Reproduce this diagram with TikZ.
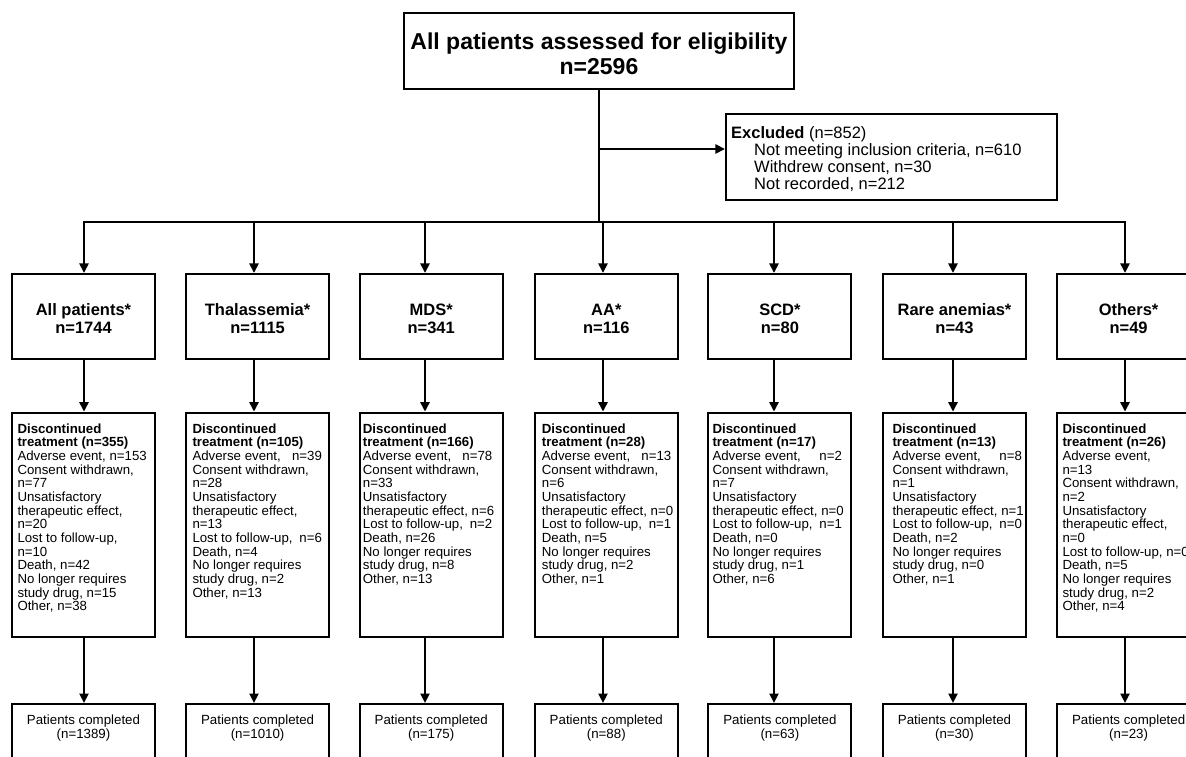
\documentclass[tikz,border=0pt]{standalone}
\usepackage{fontspec}
\setmainfont{Liberation Sans}
\usetikzlibrary{arrows.meta,calc}
\newcommand\lrline[2]{\hbox to 129.4pt{#1\hfill #2}}
\begin{document}
\begin{tikzpicture}[x=1pt,y=-1pt,
  box/.style={draw, line width=2.1pt, inner sep=0pt, minimum width=143pt},
  grp/.style={box, minimum height=85pt},
  gtxt/.style={inner sep=0pt, align=center, font=\fontsize{16.5}{18}\selectfont\bfseries},
  dbox/.style={box, minimum height=224pt},
  dtxt/.style={anchor=north west, inner sep=0pt, align=left, font=\fontsize{13.25}{13.65}\selectfont},
  pbox/.style={box, anchor=north, minimum height=90pt},
  ptxt/.style={anchor=north, inner sep=0pt, align=center, font=\fontsize{13.3}{14}\selectfont},
  conn/.style={line width=2.4pt, line cap=rect},
  arr/.style={line width=2.4pt, -{Triangle[length=9.5pt,width=9pt]}}]
\fill[white] (0,0) rectangle (1186,757);
\useasboundingbox (0,0) rectangle (1186,757);

% top box
\node[draw, line width=2.1pt, minimum width=390pt, minimum height=76pt, inner sep=0pt] (top) at (599,51) {};
\node[inner sep=0pt, align=center, font=\fontsize{23}{25}\selectfont\bfseries] (topt) at (599,53.5)
      {All patients assessed for eligibility\\n=2596};

% excluded box
\node[draw, line width=2.1pt, minimum width=331pt, minimum height=86pt, inner sep=0pt] (exc) at (891.5,157) {};
\node[anchor=north west, inner sep=0pt, align=left, font=\fontsize{16.5}{17}\selectfont] (exct) at (731,126.5)
  {\textbf{Excluded} (n=852)\\
   \hspace*{23pt}Not meeting inclusion criteria, n=610\\
   \hspace*{23pt}Withdrew consent, n=30\\
   \hspace*{23pt}Not recorded, n=212};

% bus coordinates
\coordinate (c1) at (84,222);
\coordinate (c2) at (254,222);
\coordinate (c3) at (425,222);
\coordinate (c4) at (603,222);
\coordinate (c5) at (774,222);
\coordinate (c6) at (953,222);
\coordinate (c7) at (1125,222);
\coordinate (ea) at (599,149);

% group boxes
\node[grp] (g1) at (83.5,316.5) {};
\node[grp] (g2) at (257.6,316.5) {};
\node[grp] (g3) at (431.2,316.5) {};
\node[grp] (g4) at (606.3,316.5) {};
\node[grp] (g5) at (779.9,316.5) {};
\node[grp] (g6) at (954.5,316.5) {};
\node[grp] (g7) at (1128.6,316.5) {};
\node[gtxt] (h1) at (83.5,318.5) {All patients*\\n=1744};
\node[gtxt] (h2) at (257.6,318.5) {Thalassemia*\\n=1115};
\node[gtxt] (h3) at (431.2,318.5) {MDS*\\n=341};
\node[gtxt] (h4) at (606.3,318.5) {AA*\\n=116};
\node[gtxt] (h5) at (779.9,318.5) {SCD*\\n=80};
\node[gtxt] (h6) at (954.5,318.5) {Rare anemias*\\n=43};
\node[gtxt] (h7) at (1128.6,318.5) {Others*\\n=49};

% discontinued boxes
\node[dbox] (d1) at (83.5,524.7) {};
\node[dbox] (d2) at (257.6,524.7) {};
\node[dbox] (d3) at (431.2,524.7) {};
\node[dbox] (d4) at (606.3,524.7) {};
\node[dbox] (d5) at (779.9,524.7) {};
\node[dbox] (d6) at (954.5,524.7) {};
\node[dbox] (d7) at (1128.6,524.7) {};

\node[dtxt] (t1) at (17.3,423.4) {\textbf{Discontinued}\\\textbf{treatment (n=355)}\\Adverse event, n=153\\Consent withdrawn,\\n=77\\Unsatisfactory\\therapeutic effect,\\n=20\\Lost to follow-up,\\n=10\\Death, n=42\\No longer requires\\study drug, n=15\\Other, n=38};
\node[dtxt] (t2) at (192.3,423.4) {\textbf{Discontinued}\\\textbf{treatment (n=105)}\\\lrline{Adverse event,}{n=39}\\Consent withdrawn,\\n=28\\Unsatisfactory\\therapeutic effect,\\n=13\\\lrline{Lost to follow-up,}{n=6}\\Death, n=4\\No longer requires\\study drug, n=2\\Other, n=13};
\node[dtxt] (t3) at (362.7,423.4) {\textbf{Discontinued}\\\textbf{treatment (n=166)}\\\lrline{Adverse event,}{n=78}\\Consent withdrawn,\\n=33\\Unsatisfactory\\therapeutic effect, n=6\\\lrline{Lost to follow-up,}{n=2}\\Death, n=26\\No longer requires\\study drug, n=8\\Other, n=13};
\node[dtxt] (t4) at (541.7,423.4) {\textbf{Discontinued}\\\textbf{treatment (n=28)}\\\lrline{Adverse event,}{n=13}\\Consent withdrawn,\\n=6\\Unsatisfactory\\therapeutic effect, n=0\\\lrline{Lost to follow-up,}{n=1}\\Death, n=5\\No longer requires\\study drug, n=2\\Other, n=1};
\node[dtxt] (t5) at (712.3,423.4) {\textbf{Discontinued}\\\textbf{treatment (n=17)}\\\lrline{Adverse event,}{n=2}\\Consent withdrawn,\\n=7\\Unsatisfactory\\therapeutic effect, n=0\\\lrline{Lost to follow-up,}{n=1}\\Death, n=0\\No longer requires\\study drug, n=1\\Other, n=6};
\node[dtxt] (t6) at (892.3,423.4) {\textbf{Discontinued}\\\textbf{treatment (n=13)}\\\lrline{Adverse event,}{n=8}\\Consent withdrawn,\\n=1\\Unsatisfactory\\therapeutic effect, n=1\\\lrline{Lost to follow-up,}{n=0}\\Death, n=2\\No longer requires\\study drug, n=0\\Other, n=1};
\node[dtxt] (t7) at (1062.3,423.4) {\textbf{Discontinued}\\\textbf{treatment (n=26)}\\Adverse event,\\n=13\\Consent withdrawn,\\n=2\\Unsatisfactory\\therapeutic effect,\\n=0\\Lost to follow-up, n=0\\Death, n=5\\No longer requires\\study drug, n=2\\Other, n=4};

% completed boxes
\node[pbox] (p1) at (83.5,703) {};
\node[pbox] (p2) at (257.6,703) {};
\node[pbox] (p3) at (431.2,703) {};
\node[pbox] (p4) at (606.3,703) {};
\node[pbox] (p5) at (779.9,703) {};
\node[pbox] (p6) at (954.5,703) {};
\node[pbox] (p7) at (1128.6,703) {};
\node[ptxt] (q1) at (p1.north |- 0,715) {Patients completed\\(n=1389)};
\node[ptxt] (q2) at (p2.north |- 0,715) {Patients completed\\(n=1010)};
\node[ptxt] (q3) at (p3.north |- 0,715) {Patients completed\\(n=175)};
\node[ptxt] (q4) at (p4.north |- 0,715) {Patients completed\\(n=88)};
\node[ptxt] (q5) at (p5.north |- 0,715) {Patients completed\\(n=63)};
\node[ptxt] (q6) at (p6.north |- 0,715) {Patients completed\\(n=30)};
\node[ptxt] (q7) at (p7.north |- 0,715) {Patients completed\\(n=23)};

% connectors
\draw[conn] (top.south) -- (top.south |- c1);
\draw[conn] (c1) -- (c7);
\draw[arr] (ea) -- (ea -| exc.west);
\foreach \i in {1,...,7}{
  \draw[arr] (c\i) -- (c\i |- g\i.north);
  \draw[arr] (c\i |- g\i.south) -- (c\i |- d\i.north);
  \draw[arr] (c\i |- d\i.south) -- (c\i |- p\i.north);
}
\end{tikzpicture}
\end{document}
